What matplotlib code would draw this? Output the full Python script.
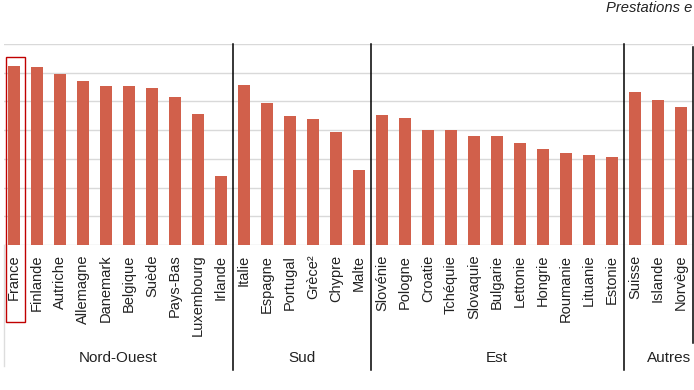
import matplotlib.pyplot as plt
from matplotlib.patches import Rectangle

plt.rcParams['font.family'] = ['Liberation Sans', 'DejaVu Sans']

# pays et valeurs (% du PIB)
pays = ["France", "Finlande", "Autriche", "Allemagne", "Danemark", "Belgique",
        "Suède", "Pays-Bas", "Luxembourg", "Irlande",
        "Italie", "Espagne", "Portugal", "Grèce²", "Chypre", "Malte",
        "Slovénie", "Pologne", "Croatie", "Tchéquie", "Slovaquie", "Bulgarie",
        "Lettonie", "Hongrie", "Roumanie", "Lituanie", "Estonie",
        "Suisse", "Islande", "Norvège"]
valeurs = [31.2, 31.0, 29.7, 28.6, 27.7, 27.7, 27.3, 25.7, 22.8, 12.0,
           27.9, 24.8, 22.5, 21.9, 19.7, 13.1,
           22.6, 22.2, 20.1, 20.1, 18.9, 18.9, 17.7, 16.7, 16.0, 15.7, 15.3,
           26.6, 25.3, 24.1]
groupes = ["Nord-Ouest", "Sud", "Est", "Autres"]
taille_groupes = [10, 6, 11, 3]

fig = plt.figure(figsize=(6.94, 3.90), dpi=100)
ax = fig.add_axes([4/694, 145/390, 688.5/694, 201/390])

x = list(range(len(pays)))
ax.bar(x, valeurs, width=0.53, color="#d1604b", zorder=2)

ax.set_xlim(-0.435, 29.5)
ax.set_ylim(0, 35)
ax.set_yticks(range(0, 36, 5))
ax.yaxis.grid(True, color="#d9d9d9", linewidth=1, zorder=0)
ax.set_yticklabels([])
ax.tick_params(axis="y", length=0)
ax.set_xticks(x)
ax.set_xticklabels(pays, rotation=90, fontsize=10.5, color="#222222")
ax.tick_params(axis="x", length=0, pad=7)
for s in ax.spines.values():
    s.set_visible(False)

tr = ax.get_xaxis_transform()

# separateurs de groupes et noms de groupes
debut = 0
for nom, n in zip(groupes, taille_groupes):
    fin = debut + n
    if nom != "Autres":
        ax.plot([fin - 0.5, fin - 0.5], [-0.622, 1], color="black", lw=1.1,
                transform=tr, clip_on=False)
        xc = ((debut - 0.435 if debut == 0 else debut - 0.5) + fin - 0.5) / 2
    else:
        xc = 28.48
    ax.text(xc, -0.562, nom, transform=tr, ha="center", va="center",
            fontsize=11, color="#222222")
    debut = fin

ax.plot([29.5, 29.5], [-0.488, 0.985], color="black", lw=1.1,
        transform=tr, clip_on=False)
ax.plot([-0.435, -0.435], [0, -0.6], color="#dddddd", lw=1,
        transform=tr, clip_on=False)

# cadre rouge autour de la France
ax.add_patch(Rectangle((-0.36, -13.36), 0.85, 46.16, fill=False,
                       edgecolor="#c00000", lw=1, clip_on=False, zorder=3))

# titre coupé sur l'image d'origine
fig.text(606/694, 1 - 8/390, "Prestations e", ha="left", va="center",
         fontsize=10.6, style="italic", color="#222222")

fig.savefig("out.png", dpi=100)
